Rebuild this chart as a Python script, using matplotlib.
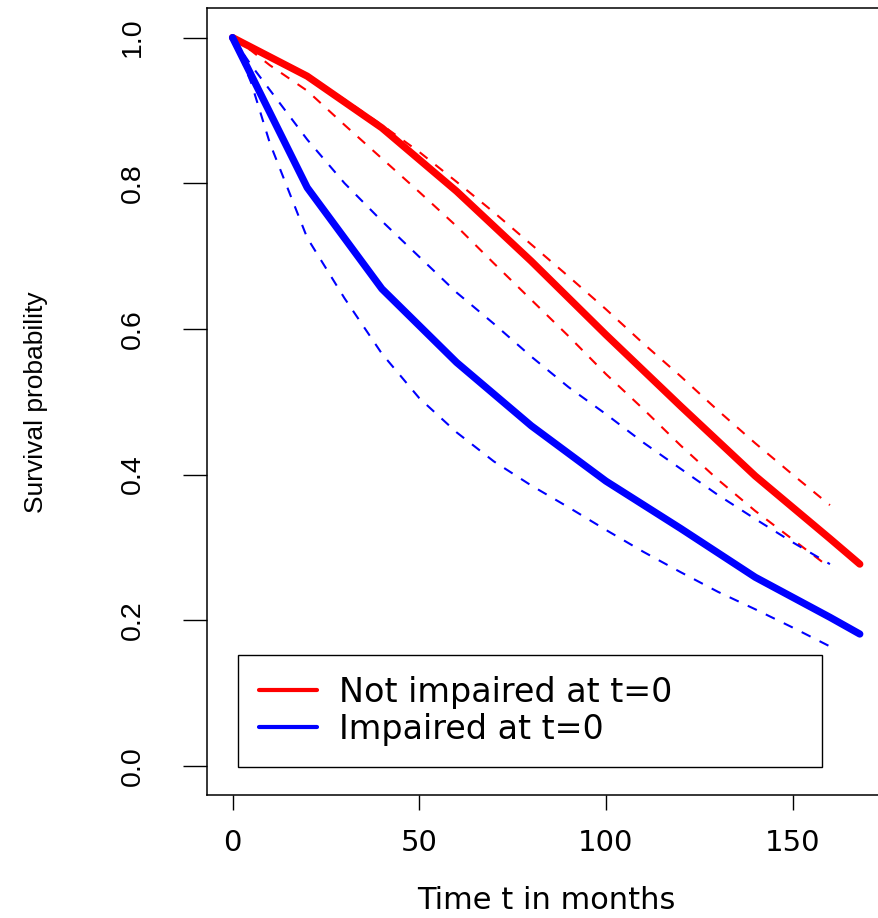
import numpy as np
import matplotlib
matplotlib.use("Agg")
import matplotlib.pyplot as plt

# time grid of the fitted curves (months)
t_fit = [0, 20, 40, 60, 80, 100, 120, 140, 160, 168]
surv_not_impaired = [1.0, 0.947, 0.876, 0.789, 0.693, 0.592, 0.494, 0.398, 0.312, 0.277]
surv_impaired = [1.0, 0.794, 0.655, 0.554, 0.467, 0.391, 0.326, 0.259, 0.204, 0.181]

# pointwise confidence bands
t_ci = [0, 5, 10, 20, 30, 40, 50, 60, 70, 80, 90, 100, 110, 120, 130, 140, 150, 160]
ni_lower = [1.0, 0.982, 0.962, 0.927, 0.880, 0.834, 0.788, 0.741, 0.690, 0.640,
            0.590, 0.538, 0.490, 0.440, 0.393, 0.350, 0.311, 0.272]
ni_upper = [1.0, 0.988, 0.975, 0.948, 0.915, 0.880, 0.843, 0.802, 0.760, 0.716,
            0.672, 0.627, 0.580, 0.535, 0.488, 0.443, 0.400, 0.358]
im_lower = [1.0, 0.938, 0.855, 0.725, 0.642, 0.566, 0.505, 0.458, 0.418, 0.385,
            0.355, 0.324, 0.294, 0.266, 0.239, 0.215, 0.190, 0.164]
im_upper = [1.0, 0.962, 0.928, 0.860, 0.800, 0.748, 0.699, 0.650, 0.607, 0.562,
            0.520, 0.483, 0.444, 0.408, 0.372, 0.339, 0.307, 0.277]

labels = ["Not impaired at t=0", "Impaired at t=0"]
x_ticks = [0, 50, 100, 150]
y_ticks = [0.0, 0.2, 0.4, 0.6, 0.8, 1.0]

fig = plt.figure(figsize=(8.79, 9.18), dpi=100)
ax = fig.add_axes([0.236, 0.134, 0.7707, 0.8568])

dash = (0, (4.8, 4.8))
ax.plot(t_fit, surv_not_impaired, color="#FF0000", lw=5.2, solid_capstyle="round",
        solid_joinstyle="round", label=labels[0])
ax.plot(t_ci, ni_lower, color="#FF0000", lw=1.5, linestyle=dash)
ax.plot(t_ci, ni_upper, color="#FF0000", lw=1.5, linestyle=dash)
ax.plot(t_fit, surv_impaired, color="#0000FF", lw=5.2, solid_capstyle="round",
        solid_joinstyle="round", label=labels[1])
ax.plot(t_ci, im_lower, color="#0000FF", lw=1.5, linestyle=dash)
ax.plot(t_ci, im_upper, color="#0000FF", lw=1.5, linestyle=dash)

ax.set_xlim(-6.72, 174.72)
ax.set_ylim(-0.04, 1.04)
ax.set_xticks(x_ticks)
ax.set_xticklabels([str(v) for v in x_ticks])
ax.set_yticks(y_ticks)
ax.set_yticklabels([f"{v:.1f}" for v in y_ticks], fontfamily="Liberation Sans",
                   rotation=90, va="center")

ax.tick_params(axis="x", length=10.8, width=1.0, pad=14, labelsize=21)
ax.tick_params(axis="y", length=17, width=1.0, pad=27, labelsize=20.5)

for spine in ax.spines.values():
    spine.set_linewidth(1.1)

ax.set_xlabel("Time t in months", fontsize=22, va="baseline")
ax.xaxis.set_label_coords(0.5, -0.1446)
ax.set_ylabel("Survival probability", fontsize=19, fontfamily="Liberation Sans", va="center")
ax.yaxis.set_label_coords(-0.2533, 0.5)

leg = ax.legend(loc="upper left", bbox_to_anchor=(0.0452, 0.0346, 0.8621, 0.1439),
                mode="expand", fontsize=24, frameon=True, fancybox=False,
                framealpha=1, edgecolor="black", borderpad=0.64, labelspacing=0.11,
                handlelength=1.74, handletextpad=0.65, borderaxespad=0)
leg.get_frame().set_linewidth(1.0)
for line in leg.get_lines():
    line.set_linewidth(3.0)
    line.set_solid_capstyle("round")

fig.savefig("out.png", dpi=100)
